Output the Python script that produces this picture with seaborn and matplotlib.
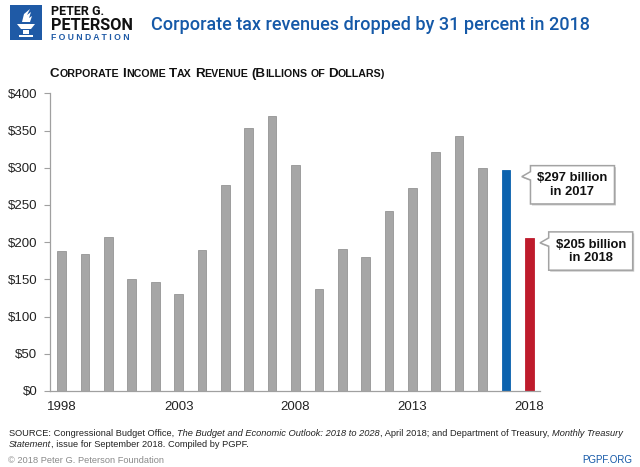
import matplotlib
matplotlib.use('Agg')
import matplotlib.pyplot as plt
import matplotlib.transforms as mtransforms
from matplotlib.patches import Polygon, Rectangle
import pandas as pd
import seaborn as sns

# Data
years = [str(y) for y in range(1998, 2019)]
revenue = [188, 184, 207, 150, 147, 131, 189, 277, 353, 370, 304,
           137, 191, 180, 242, 273, 321, 343, 299, 297, 205]
year_ticks = ['1998', '2003', '2008', '2013', '2018']
y_ticks = [0, 50, 100, 150, 200, 250, 300, 350, 400]
callouts = [('2017', '$297 billion\nin 2017'), ('2018', '$205 billion\nin 2018')]

GRAY = '#a6a6a6'
BLUE = '#0b62ae'
RED = '#be1b2c'
TITLE_BLUE = '#1559a8'

sns.set_theme(style='white')
plt.rcParams['font.family'] = ['Liberation Sans', 'DejaVu Sans']

W, H = 640, 467
fig = plt.figure(figsize=(6.4, 4.67), dpi=100)
renderer = fig.canvas.get_renderer()


def fx(px):
    return px / W


def fy(py):
    return 1 - py / H


def fit(t, width_px):
    w = t.get_window_extent(renderer).width
    t.set_fontsize(t.get_fontsize() * width_px / w)
    return t


def space_w(size, **kw):
    a = fig.text(0, 0, 'a a', fontsize=size, **kw)
    b = fig.text(0, 0, 'aa', fontsize=size, **kw)
    w = a.get_window_extent(renderer).width - b.get_window_extent(renderer).width
    a.remove()
    b.remove()
    return w


def draw_runs(x, y, parts, scale=1.0, color='black'):
    # parts: (text, size, style dict)
    cx = x
    texts = []
    for s, size, style in parts:
        size = size * scale
        lead = len(s) - len(s.lstrip(' '))
        trail = len(s) - len(s.rstrip(' '))
        sw = space_w(size, **style) if (lead or trail) else 0
        cx += lead * sw
        core = s.strip(' ')
        t = fig.text(fx(cx), fy(y), core, fontsize=size, va='baseline',
                     ha='left', color=color, **style)
        cx += t.get_window_extent(renderer).width + trail * sw
        texts.append(t)
    return texts, cx - x


def fit_runs(x, y, parts, width_px, color='black'):
    texts, w = draw_runs(x, y, parts, 1.0, color)
    for t in texts:
        t.remove()
    draw_runs(x, y, parts, width_px / w, color)


# Chart
ax = fig.add_axes([fx(50), fy(391), fx(490), (391 - 93.3) / H])
df = pd.DataFrame({'year': years, 'revenue': revenue})
palette = {y: GRAY for y in years}
palette['2017'] = BLUE
palette['2018'] = RED
sns.barplot(data=df, x='year', y='revenue', hue='year', palette=palette,
            legend=False, width=0.37, saturation=1, ax=ax)
for p, y in zip(ax.patches, years):
    p.set_edgecolor('#959595' if palette[y] == GRAY else palette[y])
    p.set_linewidth(0.6)

ax.set_xlim(-0.5, len(years) - 0.54)
ax.set_ylim(0, 400)
ax.set_xticks([years.index(y) for y in year_ticks])
ax.set_xticklabels(year_ticks)
ax.set_yticks(y_ticks)
ax.set_yticklabels([f'${v}' for v in y_ticks])
ax.set_xlabel('')
ax.set_ylabel('')
ax.tick_params(axis='x', length=0, pad=7, labelsize=9.5, colors='#222222')
ax.tick_params(axis='y', length=4, width=0.8, color='#a0a0a0', pad=5,
               labelsize=9.5, labelcolor='#222222', left=True)
sns.despine(ax=ax)
for s in ['left', 'bottom']:
    ax.spines[s].set_color('#a0a0a0')
    ax.spines[s].set_linewidth(0.9)

# Callouts (shape in inches relative to tip)
shape = [(0, 0), (0.087, 0.05), (0.087, 0.11), (0.927, 0.11),
         (0.927, -0.273), (0.087, -0.273), (0.087, -0.033)]
tip_offsets = {'2017': (0.68, -9), '2018': (0.46, -6)}
for yr, label in callouts:
    i = years.index(yr)
    v = revenue[i]
    dx, dy = tip_offsets[yr]
    base = mtransforms.ScaledTranslation(i + dx, v + dy, ax.transData)
    trans = fig.dpi_scale_trans + base
    shadow = mtransforms.offset_copy(trans, fig=fig, x=1.5, y=-1.5, units='dots')
    ax.add_patch(Polygon(shape, closed=True, transform=shadow, facecolor='#c8c8c8',
                         edgecolor='none', clip_on=False, zorder=4))
    ax.add_patch(Polygon(shape, closed=True, transform=trans, facecolor='white',
                         edgecolor='#a3a3a3', linewidth=1.1, clip_on=False, zorder=5))
    ax.text(0.507, -0.083, label, transform=trans, ha='center', va='center',
            fontsize=9.4, fontweight='bold', color='#111111', linespacing=1.15,
            zorder=6, clip_on=False)

# Logo
fig.patches.append(Rectangle((fx(10), fy(40)), fx(32), 35 / H, transform=fig.transFigure,
                             facecolor='#1f5aa6', edgecolor='none'))
torch = [
    [(17, 24), (35, 24), (31, 29), (21, 29)],
    [(23, 30), (29, 30), (29, 34), (23, 34)],
    [(19, 35), (33, 35), (33, 37), (19, 37)],
    [(22, 22), (24, 14), (30, 9), (27, 15), (31, 12), (29, 18), (32, 16), (30, 22)],
]
for poly in torch:
    fig.patches.append(Polygon([(fx(a), fy(b)) for a, b in poly], closed=True,
                               transform=fig.transFigure, facecolor='white',
                               edgecolor='none'))
narrow = ['Liberation Sans Narrow', 'Roboto', 'DejaVu Sans']
t = fig.text(fx(51), fy(15), 'PETER G.', fontsize=10, fontweight='bold',
             family=narrow, va='baseline', color='#111111')
fit(t, 53)
t = fig.text(fx(51), fy(30), 'PETERSON', fontsize=14, fontweight='bold',
             family=narrow, va='baseline', color='#111111')
fit(t, 82)
t = fig.text(fx(51), fy(40), 'F O U N D A T I O N', fontsize=7, fontweight='bold',
             va='baseline', color='#1f5aa6')
fit(t, 79)

# Title
t = fig.text(fx(151), fy(29.5), 'Corporate tax revenues dropped by 31 percent in 2018',
             fontsize=15, family=narrow, fontweight='medium', va='baseline',
             color=TITLE_BLUE)
fit(t, 440)

# Subtitle in small caps
big = 9.5
small = 7.6
b = {'fontweight': 'bold'}
words = ['Corporate', 'Income', 'Tax', 'Revenue', '(Billions', 'of', 'Dollars)']
parts = []
for k, w in enumerate(words):
    sep = ' ' if k < len(words) - 1 else ''
    head = w[:2] if w.startswith('(') else w[:1]
    rest = w[len(head):]
    if head[-1].isupper():
        parts.append((head, big, b))
        parts.append((rest.upper() + sep, small, b))
    else:
        parts.append((w.upper() + sep, small, b))
fit_runs(50, 77, parts, 334, color='#111111')

# Source
it = {'fontstyle': 'italic'}
nm = {}
line1 = [('SOURCE: Congressional Budget Office, ', 7, nm),
         ('The Budget and Economic Outlook: 2018 to 2028', 7, it),
         (', April 2018; and Department of Treasury, ', 7, nm),
         ('Monthly Treasury', 7, it)]
texts, w1 = draw_runs(9, 436, line1)
for t in texts:
    t.remove()
scale = 614 / w1
draw_runs(9, 436, line1, scale, color='#222222')
line2 = [('Statement', 7, it), (', issue for September 2018. Compiled by PGPF.', 7, nm)]
draw_runs(9, 447, line2, scale, color='#222222')

fig.text(fx(8), fy(463), '\u00a9 2018 Peter G. Peterson Foundation', fontsize=7 * scale,
         color='#8a8a8a', va='baseline')
fig.text(fx(632), fy(463), 'PGPF.ORG', fontsize=7.4 * scale, color=TITLE_BLUE,
         va='baseline', ha='right')

fig.savefig('out.png', dpi=100)
